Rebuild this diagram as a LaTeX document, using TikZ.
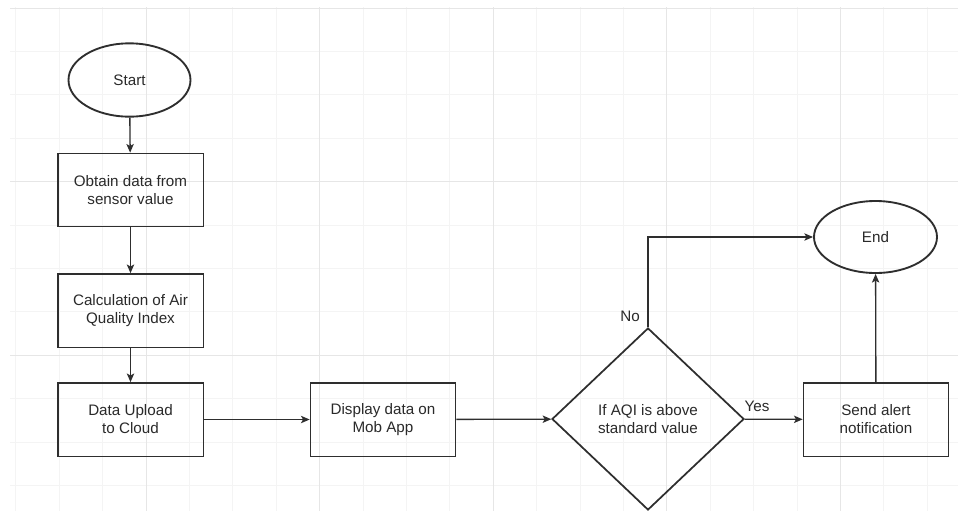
\documentclass[tikz,border=0pt]{standalone}
\usepackage{fontspec}
\setmainfont{Liberation Sans}
\usetikzlibrary{shapes.geometric,arrows.meta}
\definecolor{inkline}{HTML}{2E2E2E}
\definecolor{inktext}{HTML}{2A2A2A}
\definecolor{gridminor}{HTML}{F4F4F4}
\definecolor{gridmajor}{HTML}{E6E6E6}
\begin{document}
\begin{tikzpicture}[x=0.75pt,y=-0.75pt,
  base/.style={draw=inkline, text=inktext, align=center, inner sep=0pt,
    font=\fontsize{11.4}{13.5}\selectfont},
  procbox/.style={base, rectangle, line width=1pt,
    minimum width=109pt, minimum height=55pt},
  termnode/.style={base, ellipse, line width=1.4pt,
    minimum width=91.5pt, minimum height=55pt},
  decide/.style={base, diamond, line width=1.3pt, aspect=1.05,
    minimum width=144pt, minimum height=136.5pt},
  conn/.style={draw=inkline, line width=1pt,
    -{Stealth[length=6.5pt,width=5.5pt,inset=1.5pt]}},
  lbl/.style={text=inktext, inner sep=0pt, font=\fontsize{11.4}{13.5}\selectfont}]

% canvas and background grid
\fill[white] (0,0) rectangle (958,511);
\useasboundingbox (0,0) rectangle (958,511);
\foreach \i in {0,...,21} {
  \draw[gridminor, line width=0.6pt] ({15.8+43.4*\i},7) -- ({15.8+43.4*\i},511);
}
\foreach \j in {0,...,11} {
  \draw[gridminor, line width=0.6pt] (10,{8+43.4*\j}) -- (958,{8+43.4*\j});
}
\foreach \i in {0,...,4} {
  \draw[gridmajor, line width=0.7pt] ({146+173.6*\i},7) -- ({146+173.6*\i},511);
}
\foreach \j in {0,...,2} {
  \draw[gridmajor, line width=0.7pt] (10,{8+173.6*\j}) -- (958,{8+173.6*\j});
}

% flowchart nodes
\node[termnode] (start) at (129.5,80) {Start};
\node[procbox] (obtain) at (130.5,190) {Obtain data from\\sensor value};
\node[procbox] (calc) at (130.5,310.5) {Calculation of Air\\Quality Index};
\node[procbox] (upload) at (130.5,419.5) {Data Upload\\to Cloud};
\node[procbox] (display) at (383,419.5) {Display data on\\Mob App};
\node[decide] (check) at (648,419) {If AQI is above\\standard value};
\node[procbox] (alert) at (876,419.5) {Send alert\\notification};
\node[termnode, minimum width=92.25pt, minimum height=54pt] (finish) at (875.5,237) {End};

% connectors
\draw[conn] (start) -- (obtain);
\draw[conn] (obtain) -- (calc);
\draw[conn] (calc) -- (upload);
\draw[conn] (upload) -- (display);
\draw[conn] (display) -- (check);
\draw[conn] (check) -- (alert);
\draw[conn] (check.north) |- (finish.west);
\draw[conn] (alert) -- (finish);

% branch labels
\node[lbl] (nolbl) at (630,316) {No};
\node[lbl] (yeslbl) at (757,406) {Yes};
\end{tikzpicture}
\end{document}
